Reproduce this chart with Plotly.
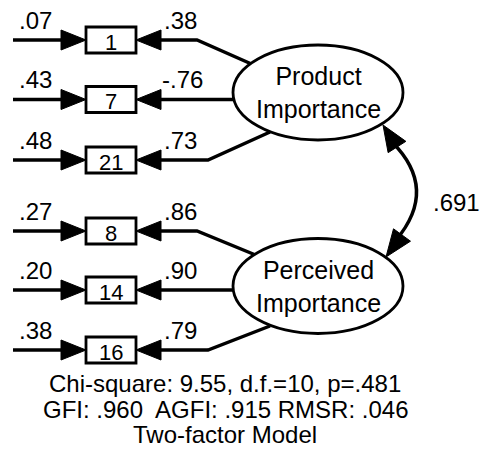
import plotly.graph_objects as go

# Two-factor confirmatory model: items, loadings, error terms
items = ["1", "7", "21", "8", "14", "16"]
loadings = [0.38, -0.76, 0.73, 0.86, 0.90, 0.79]
errors = [0.07, 0.43, 0.48, 0.27, 0.20, 0.38]
factors = ["Product<br>Importance", "Perceived<br>Importance"]
factor_corr = 0.691
fit_lines = [
    "Chi-square: 9.55, d.f.=10, p=.481",
    "GFI: .960  AGFI: .915 RMSR: .046",
    "Two-factor Model",
]

W, H = 485, 452
FONT = "Liberation Sans, Arial, Helvetica, sans-serif"
INK = "black"


def fmt(v, nd=2):
    s = f"{v:.{nd}f}"
    return s.replace("0.", ".", 1)


# layout geometry (pixel space)
row_y = [40, 99.5, 160, 231, 290, 350]
box_x0, box_x1, box_h = 86, 136, 26
err_x0 = 13
head_len, head_h = 25, 20
ell_cx, ell_rx, ell_ry = 318, 85, 47.5
ell_cy = [92.5, 286]
# per-row path from loading arrow base to the factor ellipse
links = [
    [(197, 0), (256, 66)],
    [(240, 0)],
    [(208, 0), (270, 132)],
    [(197, 0), (258, 256)],
    [(240, 0)],
    [(208, 0), (270, 326)],
]

shapes = []
ann = []


def tri(tip, base, h):
    tx, ty = tip
    bx, by = base
    dx, dy = tx - bx, ty - by
    n = (dx * dx + dy * dy) ** 0.5
    px, py = -dy / n * h / 2, dx / n * h / 2
    return dict(type="path",
                path=f"M {tx},{ty} L {bx+px},{by+py} L {bx-px},{by-py} Z",
                fillcolor=INK, line=dict(color=INK, width=1))


for i, y in enumerate(row_y):
    # error arrow into the item
    shapes.append(dict(type="line", x0=err_x0, y0=y, x1=box_x0 - head_len + 2, y1=y,
                       line=dict(color=INK, width=3.4)))
    shapes.append(tri((box_x0, y), (box_x0 - head_len, y), head_h))
    # loading path from factor to item
    pts = [(box_x1 + head_len - 2, y)]
    for (lx, ly) in links[i]:
        pts.append((lx, y if ly == 0 else ly))
    path = "M " + " L ".join(f"{px},{py}" for px, py in pts)
    shapes.append(dict(type="path", path=path, line=dict(color=INK, width=3.4)))
    shapes.append(tri((box_x1, y), (box_x1 + head_len, y), head_h))
    # item box
    shapes.append(dict(type="rect", x0=box_x0, x1=box_x1, y0=y - box_h / 2, y1=y + box_h / 2,
                       fillcolor="white", line=dict(color=INK, width=2.8)))
    ann.append(dict(x=(box_x0 + box_x1) / 2, y=y + 2, text=items[i],
                    font=dict(size=22)))
    ann.append(dict(x=35, y=y - 20, text=fmt(errors[i]), font=dict(size=24)))
    ann.append(dict(x=182 if loadings[i] < 0 else 180, y=y - 20,
                    text=fmt(loadings[i]), font=dict(size=24)))

# factor correlation: curved double-headed arrow
p0 = (383, 125)
p2 = (386, 257)
c = (439, 189)
shapes.append(dict(type="path",
                   path=f"M 392,142 Q {c[0]},{c[1]} 396,240",
                   line=dict(color=INK, width=3.4)))
shapes.append(tri(p0, (397, 147), 21))
shapes.append(tri(p2, (402, 235), 21))
ann.append(dict(x=456, y=202, text=fmt(factor_corr, 3), font=dict(size=24)))

# factor ellipses
for k, cy in enumerate(ell_cy):
    shapes.append(dict(type="circle", x0=ell_cx - ell_rx, x1=ell_cx + ell_rx,
                       y0=cy - ell_ry, y1=cy + ell_ry,
                       fillcolor="white", line=dict(color=INK, width=2.8)))
    ann.append(dict(x=ell_cx, y=cy, text=factors[k], font=dict(size=25)))

# fit statistics
for t, yy in zip(fit_lines, [383, 409, 434]):
    ann.append(dict(x=225, y=yy, text=t, font=dict(size=24)))

annotations = []
for a in ann:
    a.update(xref="x", yref="y", showarrow=False, xanchor="center", yanchor="middle")
    a["font"] = dict(family=FONT, color=INK, size=a["font"]["size"])
    annotations.append(a)

fig = go.Figure()
fig.add_trace(go.Scatter(x=[0, W], y=[0, H], mode="markers",
                         marker=dict(opacity=0), hoverinfo="skip", showlegend=False))
fig.update_layout(
    width=W, height=H,
    margin=dict(l=0, r=0, t=0, b=0),
    paper_bgcolor="white", plot_bgcolor="white",
    xaxis=dict(range=[0, W], visible=False, fixedrange=True),
    yaxis=dict(range=[H, 0], visible=False, fixedrange=True),
    shapes=shapes,
    annotations=annotations,
    showlegend=False,
)
fig.write_html("out.html")
